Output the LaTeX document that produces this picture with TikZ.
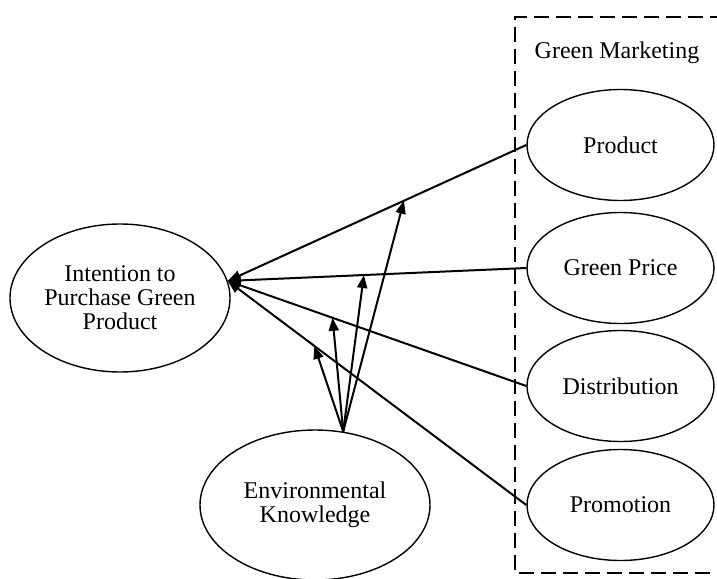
\documentclass[tikz,border=0pt]{standalone}
\usepackage{fontspec}
\setmainfont{Liberation Serif}
\usetikzlibrary{shapes.geometric,arrows.meta,calc}
\begin{document}
\begin{tikzpicture}[x=1pt,y=-1pt,
  label text/.style={font=\fontsize{24}{24}\selectfont},
  oval/.style={ellipse,draw,line width=1.4pt,inner sep=0pt,align=center,label text},
  mix/.style={oval,minimum width=187pt,minimum height=111pt},
  link/.style={line width=2pt,-{Triangle[length=13pt,width=10pt]}},
  group/.style={line width=2pt,dash pattern=on 15pt off 7pt}]
\useasboundingbox (0,0) rectangle (717,578);
\clip (0,0) rectangle (717,578);

% marketing-mix group frame (open on the right)
\draw[group] (725,17) -- (515,17) -- (515,573) -- (725,573);
\node[label text] (gm) at (617,53) {Green Marketing};

% constructs
\node[oval,minimum width=220pt,minimum height=148pt] (intent) at (120,298)
  {Intention to\\Purchase Green\\Product};
\node[oval,minimum width=230pt,minimum height=150pt] (env) at (315,505)
  {Environmental\\Knowledge};
\node[mix] (prod)  at (620.5,145) {Product};
\node[mix] (price) at (620.5,268) {Green Price};
\node[mix] (dist)  at (620.5,386) {Distribution};
\node[mix] (promo) at (620.5,505) {Promotion};

% common arrow tip on the intention construct
\coordinate (tip) at (intent.9);

% direct effects
\draw[link] (prod.west)  -- (tip);
\draw[link] (price.west) -- (tip);
\draw[link] (dist.west)  -- (tip);
\draw[link] (promo.west) -- (tip);

% moderating effects of environmental knowledge
\coordinate (src) at (env.69);
\draw[link] (src) -- ($(tip)!0.59!(prod.west)$);
\draw[link] (src) -- ($(tip)!0.456!(price.west)$);
\draw[link] (src) -- ($(tip)!0.351!(dist.west)$);
\draw[link] (src) -- ($(tip)!0.29!(promo.west)$);
\end{tikzpicture}
\end{document}
